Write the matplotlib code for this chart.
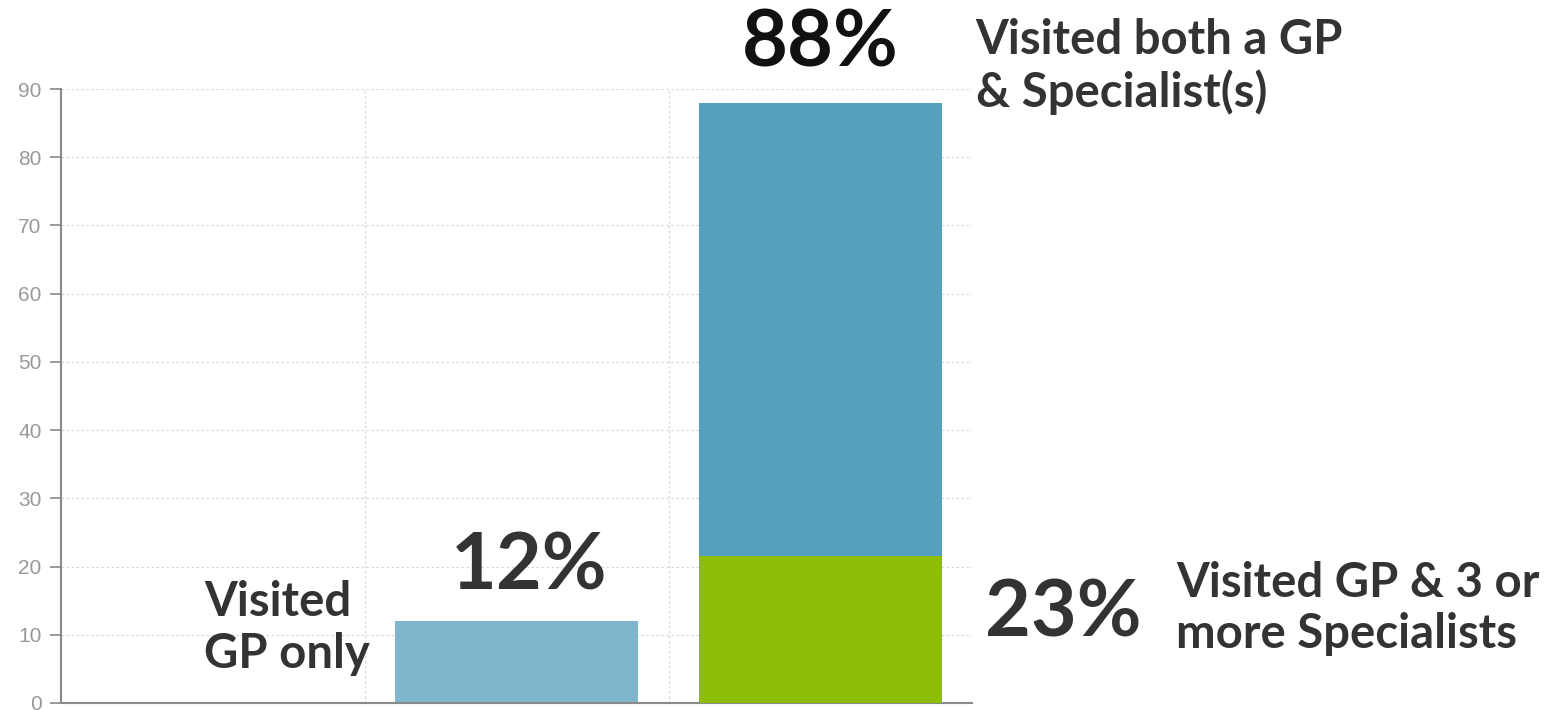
import matplotlib
matplotlib.use('Agg')
from matplotlib import pyplot as plt

# data
positions = [0, 1, 2]
gp_only = [0, 12, 0]
gp_and_spec = [0, 0, 88]
gp_3plus = [0, 0, 21.5]
y_ticks = [0, 10, 20, 30, 40, 50, 60, 70, 80, 90]

label_88 = '88%'
label_12 = '12%'
label_23 = '23%'
text_both = 'Visited both a GP\n& Specialist(s)'
text_gp = 'Visited\nGP only'
text_3plus = 'Visited GP & 3 or\nmore Specialists'

fig = plt.figure(figsize=(15.66, 7.10), dpi=100)
ax = fig.add_axes([0.039, 0.0099, 0.582, 0.8647])

ax.bar(positions, gp_only, width=0.8, color='#7fb6cc', zorder=2)
ax.bar(positions, gp_and_spec, width=0.8, color='#55a0bc', zorder=2)
ax.bar(positions, gp_3plus, width=0.8, color='#8dbd07', zorder=3)

ax.set_xlim(-0.5, 2.5)
ax.set_ylim(0, 90)
ax.set_yticks(y_ticks)
ax.set_xticks([0.5, 1.5, 2.5])
ax.tick_params(axis='x', length=0, labelbottom=False)
ax.tick_params(axis='y', length=8, width=1.2, color='#888888',
               labelcolor='#999999', labelsize=15, pad=6)
for lab in ax.get_yticklabels():
    lab.set_family('Liberation Sans')
ax.grid(True, linestyle=(0, (2, 2)), color='#d8d8d8', linewidth=0.9, zorder=0)
for side in ['top', 'right']:
    ax.spines[side].set_visible(False)
ax.spines['left'].set_color('#8a8a8a')
ax.spines['left'].set_linewidth(1.5)
ax.spines['bottom'].set_color('#8a8a8a')
ax.spines['bottom'].set_linewidth(1.5)

big = dict(family=['Lato', 'DejaVu Sans'], fontweight='bold', fontsize=57)
small = dict(family=['Lato', 'DejaVu Sans'], fontweight='bold', fontsize=34,
             color='#333333', linespacing=1.2)

ax.text(2.0, 96.5, label_88, ha='center', va='center', color='#111111',
        clip_on=False, **big)
ax.text(1.04, 19.9, label_12, ha='center', va='center', color='#333333',
        clip_on=False, **big)
ax.text(2.54, 12.9, label_23, ha='left', va='center', color='#333333',
        clip_on=False, **big)
ax.text(2.51, 93.3, text_both, ha='left', va='center', clip_on=False, **small)
ax.text(-0.03, 11.0, text_gp, ha='left', va='center', clip_on=False, **small)
ax.text(3.17, 13.9, text_3plus, ha='left', va='center', clip_on=False, **small)

plt.savefig('out.png', dpi=100)
